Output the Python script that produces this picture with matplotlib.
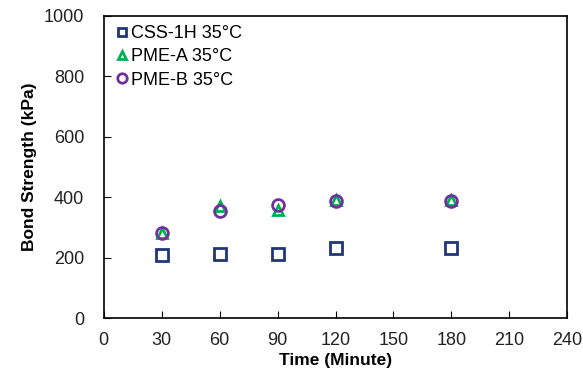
import matplotlib
matplotlib.use('Agg')
import matplotlib.pyplot as plt

plt.rcParams['font.family'] = ['Liberation Sans', 'DejaVu Sans']

time = [30, 60, 90, 120, 180]
css_1h = [209, 212, 212, 232, 232]
pme_a = [281, 372, 358, 391, 391]
pme_b = [281, 354, 374, 388, 388]


def main():
    fig = plt.figure(figsize=(5.83, 3.79), dpi=100)
    ax = fig.add_axes([0.178, 0.16, 0.795, 0.798])

    ax.plot(time, css_1h, ls='none', marker='s', ms=8, mfc='none', mec='#1f3677',
            mew=2, label='CSS-1H 35°C')
    ax.plot(time, pme_a, ls='none', marker='^', ms=7.5, mfc='none', mec='#00b050',
            mew=2, label='PME-A 35°C')
    ax.plot(time, pme_b, ls='none', marker='o', ms=8.5, mfc='none', mec='#7030a0',
            mew=2, label='PME-B 35°C')

    ax.set_xlim(0, 240)
    ax.set_ylim(0, 1000)
    ax.set_xticks(range(0, 241, 30))
    ax.set_yticks(range(0, 1001, 200))
    ax.tick_params(direction='in', labelsize=13, length=5, top=False, right=False,
                   labelcolor='#222222')
    ax.tick_params(axis='x', pad=10)
    ax.tick_params(axis='y', pad=14)
    for s in ax.spines.values():
        s.set_linewidth(1.2)

    ax.set_xlabel('Time (Minute)', fontsize=12.5, fontweight='bold', labelpad=3)
    ax.set_ylabel('Bond Strength (kPa)', fontsize=12.5, fontweight='bold', labelpad=5)

    ax.legend(loc='upper left', frameon=False, fontsize=13, handletextpad=0.0,
              borderaxespad=0.1, labelspacing=0.35, handlelength=1.0,
              markerscale=0.8, borderpad=0.4)

    fig.savefig('out.png', dpi=100)


if __name__ == "__main__":
    main()
